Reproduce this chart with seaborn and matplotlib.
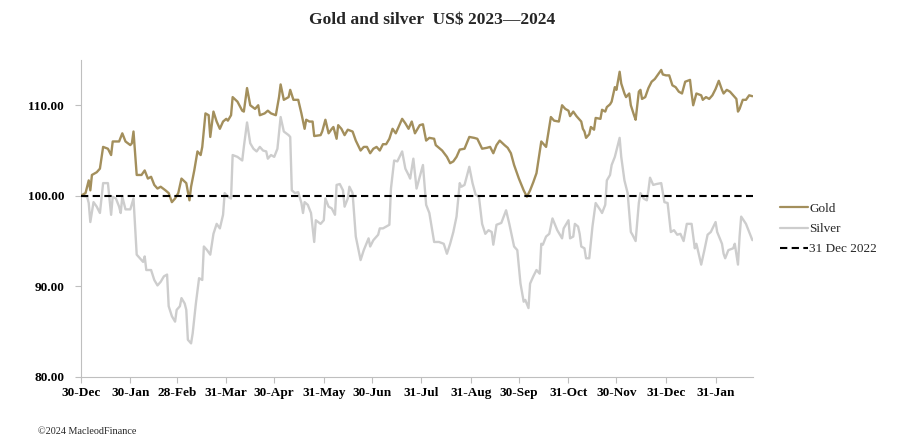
import pandas as pd
import matplotlib.pyplot as plt
import seaborn as sns
from matplotlib.lines import Line2D

# Gold and silver, rebased to 100 at 31 Dec 2022 (x = days after 30-Dec-2022)
start = pd.Timestamp('2022-12-30')

gold_day = [0, 3, 5, 6, 7, 10, 12, 14, 17, 19, 20, 24, 26, 28, 31, 32, 33, 35, 38, 40,
            42, 44, 46, 48, 50, 53, 55, 57, 59, 61, 63, 66, 68, 69, 71, 73, 75, 76, 78, 80,
            81, 83, 85, 87, 89, 91, 92, 94, 95, 98, 101, 102, 104, 106, 109, 111, 112, 115, 117, 119,
            122, 124, 125, 127, 130,
            131, 133, 136, 138, 140, 141, 143, 145, 146, 150, 151, 153, 155, 157, 158, 160, 161, 163, 165, 167,
            170, 172, 175, 177, 179, 181, 183, 185, 187, 189, 191, 193, 195, 197, 201, 203, 205, 207, 209, 212,
            214, 216, 218, 221, 222, 226, 229, 231, 233, 235, 237, 240, 243, 246, 248, 251, 254, 256, 258, 260,
            262, 265, 267, 269, 271, 274, 277, 279, 281, 283, 285,
            288, 290, 291, 294, 296, 299, 301, 303, 305, 306, 308, 310, 313, 314, 315, 316, 318, 319, 321, 322,
            325, 326, 328, 329, 331, 332, 334, 335, 337, 338, 340, 341, 343, 344, 346, 347, 349, 350, 351, 353,
            355, 357, 359, 361, 363, 364, 366, 368, 370, 372, 374, 376, 378, 381, 382, 383, 385, 388, 389, 391,
            393, 395, 397, 399, 401, 402, 404, 406, 408, 410, 411, 412, 414, 416, 418, 420]
gold_value = [100.0, 100.3, 101.7, 100.6, 102.3, 102.6, 103.0, 105.4, 105.2, 104.5,
              106.0, 106.0, 106.9, 106.0, 105.6, 105.8, 107.1, 102.3, 102.3, 102.8,
              101.9, 102.1, 101.2, 100.8, 101.0, 100.6, 100.3, 99.3, 99.7, 100.3,
              101.9, 101.4, 99.5, 101.0, 102.8, 104.9, 104.5, 105.4, 109.1, 108.9,
              106.5, 109.3, 108.2, 107.4, 108.2, 108.5, 108.3, 108.9, 110.9, 110.4,
              109.4, 109.3, 111.9, 110.0, 109.6, 110.0, 108.9, 109.1, 109.4, 109.1,
              108.9, 110.9, 112.3, 110.6, 110.9,
              111.7, 110.6, 110.6, 109.1, 107.4, 108.4, 108.2, 108.2, 106.6, 106.7,
              107.1, 108.4, 106.9, 107.4, 107.6, 106.3, 107.8, 107.4, 106.7, 107.3,
              107.1, 106.1, 105.0, 105.4, 105.4, 104.7, 105.2, 105.4, 105.0, 105.7,
              105.7, 106.3, 107.4, 106.9, 108.5, 108.0, 107.4, 108.2, 106.9, 107.8,
              107.9, 106.1, 106.4, 106.3, 105.6, 105.0, 104.3, 103.6, 103.8, 104.3,
              105.1, 105.2, 106.5, 106.4, 106.3, 105.2, 105.3, 105.4, 104.7, 105.6,
              106.1, 105.6, 105.3, 104.7, 103.4, 101.9, 100.6, 99.9, 100.6, 101.5,
              102.5,
              106.0, 105.6, 105.4, 108.7, 108.3, 108.2, 110.0, 109.6, 109.4, 108.8,
              109.3, 108.8, 108.2, 107.4, 107.1, 106.4, 106.8, 107.6, 107.3, 108.6,
              108.5, 109.5, 109.3, 109.8, 110.1, 110.4, 112.0, 111.7, 113.7, 112.4,
              111.3, 110.9, 111.3, 110.0, 108.9, 108.4, 111.5, 111.7, 110.7, 110.9,
              111.9, 112.6, 112.9, 113.4, 113.9, 113.4, 113.3, 113.3, 112.2, 112.0,
              111.5, 111.3, 112.6, 112.8, 111.3, 110.0, 111.3, 111.1, 110.6, 110.9,
              110.7, 111.1, 111.8, 112.7, 111.7, 111.3, 111.7, 111.5, 111.1, 110.7,
              109.3, 109.6, 110.6, 110.6, 111.1, 111.0]

silver_day = [0, 4, 5, 6, 8, 10, 12, 14, 17, 19, 20, 22, 24, 25, 26, 28, 31, 33, 35, 37,
              39, 40, 41, 44, 46, 48, 50, 52, 54, 55, 57, 59, 60, 62, 63, 65, 66, 67, 69, 70,
              72, 74, 76, 77, 79, 81, 83, 85, 87, 89, 90, 92, 94, 95, 98, 101, 102, 104, 106, 108,
              110, 112, 114, 116, 117, 119, 121, 123, 125, 127, 130,
              131, 132, 134, 136, 138, 139, 140, 142, 144, 146, 147, 150, 152, 153, 155, 157, 159, 160, 162, 164,
              165, 167, 168, 170, 172, 175, 177, 180, 181, 183, 186, 187, 189, 193, 194, 196, 198, 201, 203, 205,
              206, 208, 210, 212, 214, 216, 218, 221, 224, 227, 229, 231, 233, 235, 237, 238, 240, 243, 245, 247,
              249, 251, 253, 255, 257, 258, 260, 263, 266, 268, 271, 273, 275, 277, 278, 280,
              281, 283, 285, 287, 288, 289, 291, 293, 295, 298, 301, 302, 305, 306, 308, 309, 311, 312, 313, 315,
              316, 318, 320, 322, 325, 326, 328, 329, 331, 332, 334, 335, 337, 338, 340, 342, 344, 345, 347, 349,
              350, 352, 354, 355, 356, 358, 360, 363, 365, 367, 369, 371, 373, 375, 377, 379, 382, 384, 385, 388,
              390, 392, 394, 397, 398, 401, 402, 403, 405, 408, 409, 411, 412, 413, 416, 418, 420]
silver_value = [100.0, 99.9, 99.2, 97.1, 99.3, 98.8, 98.1, 101.4, 101.4, 97.9,
                99.9, 99.7, 98.8, 98.1, 99.9, 98.5, 98.5, 99.7, 93.5, 93.1,
                92.7, 93.3, 91.8, 91.8, 90.7, 90.1, 90.5, 91.1, 91.3, 87.8,
                86.7, 86.1, 87.4, 87.8, 88.7, 88.1, 87.4, 84.1, 83.7, 84.8,
                88.1, 90.9, 90.7, 94.4, 94.0, 93.5, 95.8, 96.9, 96.4, 97.9,
                100.3, 99.9, 99.7, 104.5, 104.3, 103.9, 105.4, 108.1, 105.8, 105.2,
                104.9, 105.4, 105.0, 104.9, 104.1, 104.5, 104.3, 105.2, 108.7, 107.1,
                106.7,
                106.5, 100.6, 100.3, 100.4, 99.2, 98.1, 99.3, 99.0, 98.1, 94.9,
                97.3, 96.9, 97.3, 99.7, 98.8, 98.6, 97.9, 101.2, 101.3, 100.6,
                98.8, 99.7, 101.0, 100.3, 95.5, 92.9, 94.0, 95.3, 94.4, 95.1,
                95.7, 96.4, 96.4, 96.8, 100.8, 103.9, 103.8, 104.9, 103.0, 102.3,
                101.9, 104.1, 100.8, 102.1, 103.4, 99.0, 98.1, 94.9, 94.9, 94.7,
                93.6, 94.7, 96.0, 97.7, 101.4, 101.0, 101.2, 103.2, 101.4, 100.1,
                99.9, 96.9, 95.8, 96.2, 96.0, 94.6, 96.8, 97.0, 98.4, 96.9,
                94.4, 94.0, 90.3, 88.3, 88.5, 87.6,
                90.3, 91.1, 91.8, 91.4, 94.7, 94.6, 95.5, 95.8, 97.5, 96.2,
                95.3, 96.4, 97.3, 95.3, 95.5, 96.9, 96.6, 95.8, 94.4, 94.2,
                93.1, 93.1, 96.6, 99.2, 98.4, 98.1, 99.0, 101.7, 102.3, 103.4,
                104.3, 105.0, 106.4, 104.3, 101.7, 100.3, 96.0, 95.7, 95.0, 99.2,
                100.3, 99.7, 99.5, 100.6, 102.0, 101.2, 101.3, 101.4, 99.3, 99.2,
                96.0, 96.2, 95.7, 95.8, 95.0, 96.9, 96.9, 94.2, 94.7, 92.4,
                94.0, 95.7, 96.0, 97.1, 96.0, 94.7, 93.6, 93.1, 94.0, 94.2,
                94.7, 92.4, 95.5, 97.7, 96.9, 96.0, 95.1]

base_value = 100.0

tick_dates = ['2022-12-30', '2023-01-30', '2023-02-28', '2023-03-31', '2023-04-30',
              '2023-05-31', '2023-06-30', '2023-07-31', '2023-08-31', '2023-09-30',
              '2023-10-31', '2023-11-30', '2023-12-31', '2024-01-31']
tick_labels = ['30-Dec', '30-Jan', '28-Feb', '31-Mar', '30-Apr', '31-May', '30-Jun',
               '31-Jul', '31-Aug', '30-Sep', '31-Oct', '30-Nov', '31-Dec', '31-Jan']
y_ticks = [80, 90, 100, 110]

gold = pd.DataFrame({'date': start + pd.to_timedelta(gold_day, unit='D'), 'value': gold_value})
silver = pd.DataFrame({'date': start + pd.to_timedelta(silver_day, unit='D'), 'value': silver_value})

gold_col = '#A38F5C'
silver_col = '#CDCDCD'
axis_col = '#BFBFBF'

sns.set_theme(style='white')
plt.rcParams['font.family'] = ['Liberation Serif', 'DejaVu Serif']

fig = plt.figure(figsize=(9.02, 4.46), dpi=100)
ax = fig.add_axes([0.0895, 0.155, 0.7455, 0.7105])

sns.lineplot(data=silver, x='date', y='value', color=silver_col, linewidth=1.7,
             estimator=None, ax=ax, zorder=2)
sns.lineplot(data=gold, x='date', y='value', color=gold_col, linewidth=1.7,
             estimator=None, ax=ax, zorder=3)
ax.axhline(base_value, color='black', lw=1.5, ls=(0, (3.5, 2.1)), zorder=4)

ax.set_xlim(start, start + pd.Timedelta(days=420.5))
ax.set_ylim(80, 115)
ax.set_xticks(pd.to_datetime(tick_dates))
ax.set_xticklabels(tick_labels, fontsize=9.5, fontweight='bold')
ax.set_yticks(y_ticks)
ax.set_yticklabels([f'{v:.2f}' for v in y_ticks], fontsize=9.5, fontweight='bold')
ax.set_xlabel('')
ax.set_ylabel('')
ax.tick_params(bottom=True, left=True, length=4, width=0.8, color=axis_col,
               labelcolor='black')
ax.tick_params(axis='y', pad=8)
ax.tick_params(axis='x', pad=3)
for s in ['top', 'right']:
    ax.spines[s].set_visible(False)
for s in ['left', 'bottom']:
    ax.spines[s].set_color(axis_col)
    ax.spines[s].set_linewidth(0.8)

handles = [Line2D([], [], color=gold_col, lw=1.6),
           Line2D([], [], color=silver_col, lw=1.6),
           Line2D([], [], color='black', lw=1.5, ls=(0, (3.5, 2.1)))]
fig.legend(handles, ['Gold', 'Silver', '31 Dec 2022'], loc='center left',
           bbox_to_anchor=(780 / 902, 1 - 229 / 446), frameon=False, fontsize=9.5,
           handlelength=2.1, handletextpad=0.1, labelspacing=0.6,
           borderpad=0, borderaxespad=0)

fig.text(0.479, 0.955, 'Gold and silver  US$ 2023\u20142024', ha='center', va='center',
         fontsize=12.6, fontweight='bold')
fig.text(38 / 902, 1 - 432 / 446, '\u00a92024 MacleodFinance', ha='left', va='center',
         fontsize=7.3)

fig.savefig('out.png', dpi=100)
